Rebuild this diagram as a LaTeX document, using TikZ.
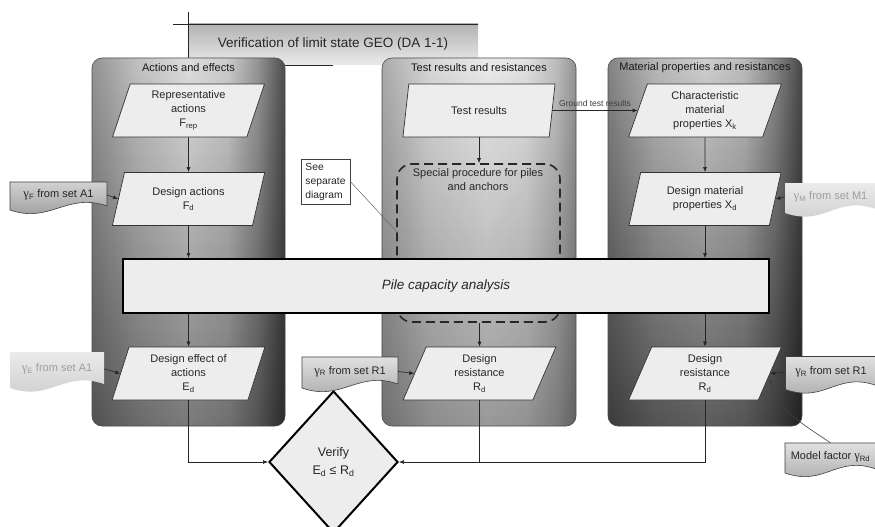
\documentclass[tikz,border=0pt]{standalone}
\usepackage{fontspec}
\setmainfont{Liberation Sans}
\newfontfamily\gfont{Liberation Serif}
\usetikzlibrary{shapes.geometric,arrows.meta,fadings}
\tikzfading[name=fadedown, top color=transparent!100, middle color=transparent!93, bottom color=transparent!0]
\pgfdeclarehorizontalshading{panelLshade}{100bp}{color(0bp)=(black!42); color(25bp)=(black!42); color(37bp)=(black!24); color(50bp)=(black!13); color(60bp)=(black!20); color(68bp)=(black!42); color(75bp)=(black!70); color(100bp)=(black!70)}
\pgfdeclarehorizontalshading{panelMshade}{100bp}{color(0bp)=(black!33); color(25bp)=(black!33); color(37bp)=(black!16); color(52bp)=(black!8); color(62bp)=(black!12); color(70bp)=(black!26); color(75bp)=(black!42); color(100bp)=(black!42)}
\pgfdeclarehorizontalshading{panelRshade}{100bp}{color(0bp)=(black!48); color(25bp)=(black!48); color(37bp)=(black!28); color(50bp)=(black!19); color(60bp)=(black!26); color(68bp)=(black!47); color(75bp)=(black!72); color(100bp)=(black!72)}
\newcommand\fsnode{\fontsize{11}{14}\selectfont}
\newcommand\gam{{\gfont\fontsize{12.5}{14}\selectfont γ}}
% #1 name, #2 x, #3 y, #4 width, #5 height, #6 shape style, #7 text colour, #8 text
\newcommand\wnote[8]{%
  \path[#6] ({#2-#4/2},{#3-#5/2}) -- ({#2+#4/2},{#3-#5/2}) -- ({#2+#4/2},{#3+#5/2-2})
    .. controls +(-40,-14) and +(40,14) .. ({#2-#4/2},{#3+#5/2+2}) -- cycle;
  \node[notebox=#5pt, minimum width=#4pt, text=#7] (#1) at (#2,#3) {#8};}
\begin{document}
\begin{tikzpicture}[x=1pt,y=-1pt,
  para/.style={trapezium, trapezium left angle=74, trapezium right angle=106, trapezium stretches=true,
    minimum width=153pt, minimum height=53pt, inner sep=0pt, draw=black!80, fill=black!7,
    line width=0.7pt, align=center, font=\fsnode, text=black!85},
  hdr/.style={font=\fsnode, text=black!90, inner sep=0pt},
  arr/.style={-{Latex[length=5pt,width=4pt]}, draw=black!85, line width=0.6pt},
  ln/.style={draw=black!85, line width=0.6pt},
  notebox/.style={minimum height=#1, inner sep=0pt, font=\fsnode, align=center},
  darknote/.style={top color=black!18, bottom color=black!42, draw=black!75, line width=0.6pt},
  midnote/.style={top color=black!12, bottom color=black!35, draw=black!75, line width=0.6pt},
  lightnote/.style={top color=black!8, bottom color=black!20},
  panelborder/.style={rounded corners=10pt, draw=black!70, line width=0.6pt}
]
\useasboundingbox (0,0) rectangle (875,527);
\clip (0,0) rectangle (875,527);
\fill[white] (0,0) rectangle (875,527);

% title box
\path[top color=black!30, bottom color=black!8] (188,24) rectangle (478,65);
\draw[black!85, line width=0.8pt] (173,24) -- (478,24);
\draw[black!85, line width=0.8pt] (188,12) -- (188,65);
\draw[black!85, line width=0.8pt] (188,65) -- (333,65);
\node[font=\fontsize{13.5}{16}\selectfont, text=black!85] (title) at (333,44) {Verification of limit state GEO (DA 1-1)};

% panels
\path[rounded corners=10pt, shading=panelLshade] (92,58) rectangle (285,426);
\fill[rounded corners=10pt, black, opacity=0.45, path fading=fadedown] (92,58) rectangle (285,426);
\draw[panelborder] (92,58) rectangle (285,426);

\path[rounded corners=10pt, shading=panelMshade] (382,58) rectangle (576,426);
\fill[rounded corners=10pt, black, opacity=0.35, path fading=fadedown] (382,58) rectangle (576,426);
\draw[panelborder] (382,58) rectangle (576,426);

\path[rounded corners=10pt, shading=panelRshade] (608,58) rectangle (802,426);
\fill[rounded corners=10pt, black, opacity=0.55, path fading=fadedown] (608,58) rectangle (802,426);
\draw[panelborder] (608,58) rectangle (802,426);

\node[hdr] (h1) at (188.5,68) {Actions and effects};
\node[hdr] (h2) at (479,68) {Test results and resistances};
\node[hdr] (h3) at (705,68) {Material properties and resistances};

% special procedure box
\node[draw=black!85, line width=1.6pt, dash pattern=on 9pt off 5pt, rounded corners=15pt,
  minimum width=163pt, minimum height=158pt, inner sep=0pt] (spec) at (478.5,243) {};
\node[font=\fsnode, align=center, text=black!85] (spectext) at (478,180) {Special procedure for piles\\and anchors};

% see separate diagram
\node[draw=black!75, fill=white, line width=0.6pt, align=left, inner sep=2pt,
  minimum width=49pt, minimum height=45pt, font=\fontsize{10.3}{14}\selectfont, text=black!85] (see) at (325.5,181.5)
  {See\\separate\\diagram};
\coordinate (seeend) at (397,232);
\draw[black!60, line width=0.5pt] (see.east) -- (seeend);

% parallelograms
\node[para] (Frep) at (188.5,110.5) {Representative\\actions\\F\textsubscript{rep}};
\node[para] (Fd) at (188.5,199) {Design actions\\F\textsubscript{d}};
\node[para] (Ed) at (188.5,373.5) {Design effect of\\actions\\E\textsubscript{d}};
\node[para] (tr) at (479,110.5) {Test results};
\node[para] (Rd1) at (479.5,373.5) {Design\\resistance\\R\textsubscript{d}};
\node[para] (Xk) at (705,110.5) {Characteristic\\material\\properties X\textsubscript{k}};
\node[para] (Xd) at (705,199) {Design material\\properties X\textsubscript{d}};
\node[para] (Rd2) at (705,373.5) {Design\\resistance\\R\textsubscript{d}};

% pile capacity analysis
\node[draw=black, line width=2pt, fill=black!7, minimum width=646pt, minimum height=54pt, inner sep=0pt,
  font=\fontsize{13.5}{16}\selectfont\itshape, text=black!85] (pile) at (446,286) {Pile capacity analysis};

% verify diamond
\node[diamond, draw=black, line width=2pt, fill=black!7, minimum width=129pt, minimum height=142pt, inner sep=0pt,
  align=center, font=\fontsize{12.5}{18}\selectfont, text=black!85] (verify) at (333.5,462)
  {Verify\\E\textsubscript{d} ≤ R\textsubscript{d}};

% notes
\wnote{gF}{58.5}{195}{97}{26}{darknote}{black!85}{\gam\textsubscript{F} from set A1}
\wnote{gE}{57}{369}{94}{34}{lightnote}{black!38}{\gam\textsubscript{E} from set A1}
\wnote{gR1}{350}{371.5}{96}{29}{midnote}{black!85}{\gam\textsubscript{R} from set R1}
\wnote{gM}{830.5}{197}{91}{28}{lightnote}{black!38}{\gam\textsubscript{M} from set M1}
\wnote{gR2}{831}{372}{91}{31}{midnote}{black!85}{\gam\textsubscript{R} from set R1}
\wnote{mf}{830.5}{457}{91}{28}{midnote}{black!85}{Model factor \gam\textsubscript{Rd}}

% connectors
\draw[arr] (Frep.south) -- (Fd.north);
\draw[arr] (Fd.south) -- (Fd.south |- pile.north);
\draw[arr] (Ed.north |- pile.south) -- (Ed.north);
\draw[arr] (Ed.south) |- (verify.west);

\draw[arr] (tr.south) -- (tr.south |- spec.north);
\draw[arr] (Rd1.north |- spec.south) -- (Rd1.north);
\draw[ln] (Rd1.south) -- (Rd1.south |- verify.east);

\draw[arr] (Xk.south) -- (Xd.north);
\draw[arr] (Xd.south) -- (Xd.south |- pile.north);
\draw[arr] (Rd2.north |- pile.south) -- (Rd2.north);
\draw[arr] (Rd2.south) |- (verify.east);

\draw[arr] (tr.east) -- node[above=0pt, font=\fontsize{8.5}{10}\selectfont, text=black!75] (gtr) {Ground test results} (Xk.west);

\draw[arr] (gF.east) -- (Fd.west);
\draw[arr] (gE.east) -- (Ed.west);
\draw[arr] (gR1.east) -- (Rd1.west);
\draw[arr] (gM.west) -- (Xd.east);
\draw[arr] (gR2.west) -- (Rd2.east);
\draw[arr, black!75] (mf.north) .. controls +(-30,-20) and +(2,28) .. ([yshift=-4pt]Rd2.east);
\end{tikzpicture}
\end{document}
